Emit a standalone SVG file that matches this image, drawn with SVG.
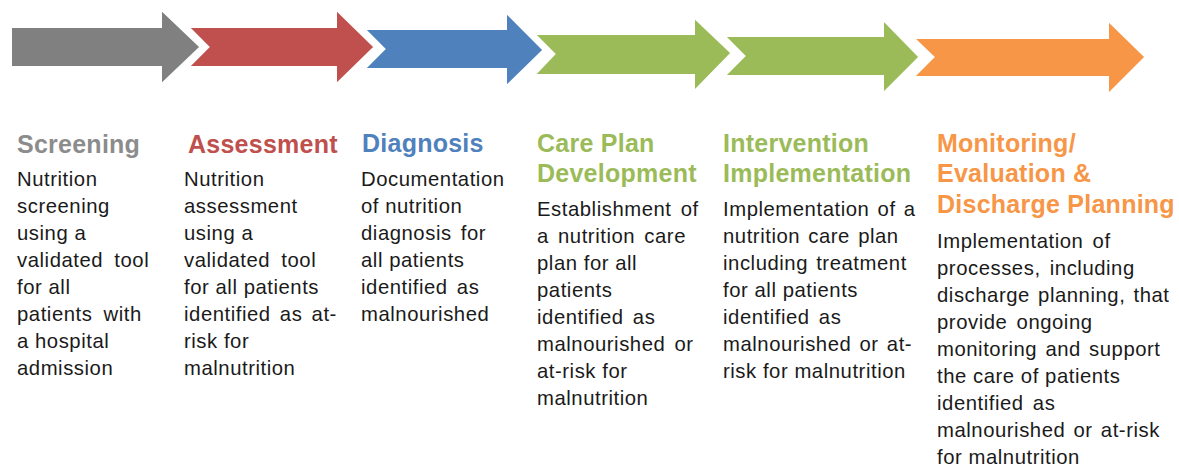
<svg xmlns="http://www.w3.org/2000/svg" width="1179" height="467" viewBox="0 0 1179 467">
<style>
.arr{stroke:#fff;stroke-width:4;stroke-linejoin:miter}
.t{font-family:"Liberation Sans",Arial,sans-serif;font-weight:bold;font-size:25px;letter-spacing:0.25px}
.b{font-family:"Liberation Sans",Arial,sans-serif;font-size:20.3px;fill:#1a1a1a;letter-spacing:0.55px}
</style>
<rect width="1179" height="467" fill="#fff"/>
<g id="screening">
<polygon class="arr" fill="#808080" points="10,26 160,26 160,7 202,47 160,87 160,68 10,68"/>
<text class="t" x="17" y="153" fill="#8c8c8c">Screening</text>
<text class="b" x="17"><tspan x="17" y="186">Nutrition</tspan><tspan x="17" y="213">screening</tspan><tspan x="17" y="240">using a</tspan><tspan x="17" y="267" word-spacing="5">validated tool</tspan><tspan x="17" y="294">for all</tspan><tspan x="17" y="321" word-spacing="5">patients with</tspan><tspan x="17" y="348">a hospital</tspan><tspan x="17" y="375">admission</tspan></text>
</g>
<g id="assessment">
<polygon class="arr" fill="#c0504d" points="186,26 335,26 335,7 376,47 335,87 335,68 186,68 207,47"/>
<text class="t" x="188" y="153" fill="#c0504d">Assessment</text>
<text class="b"><tspan x="184" y="186">Nutrition</tspan><tspan x="184" y="213">assessment</tspan><tspan x="184" y="240">using a</tspan><tspan x="184" y="267" word-spacing="5">validated tool</tspan><tspan x="184" y="294">for all patients</tspan><tspan x="184" y="321" word-spacing="3">identified as at-</tspan><tspan x="184" y="348">risk for</tspan><tspan x="184" y="375">malnutrition</tspan></text>
</g>
<g id="diagnosis">
<polygon class="arr" fill="#4f81bd" points="362,28 505,28 505,10 545,50 505,89 505,70 362,70 383,49"/>
<text class="t" x="362" y="152" fill="#4f81bd">Diagnosis</text>
<text class="b"><tspan x="361" y="186">Documentation</tspan><tspan x="361" y="213">of nutrition</tspan><tspan x="361" y="240" word-spacing="3">diagnosis for</tspan><tspan x="361" y="267">all patients</tspan><tspan x="361" y="294" word-spacing="3">identified as</tspan><tspan x="361" y="321">malnourished</tspan></text>
</g>
<g id="care-plan">
<polygon class="arr" fill="#9bbb59" points="532,33 693,33 693,15 733,53 693,94 693,76 532,76 553,54"/>
<text class="t" fill="#9bbb59"><tspan x="537" y="152">Care Plan</tspan><tspan x="537" y="182">Development</tspan></text>
<text class="b"><tspan x="537" y="216" word-spacing="3">Establishment of</tspan><tspan x="537" y="243" word-spacing="3">a nutrition care</tspan><tspan x="537" y="270">plan for all</tspan><tspan x="537" y="297">patients</tspan><tspan x="537" y="324" word-spacing="3">identified as</tspan><tspan x="537" y="351" word-spacing="3">malnourished or</tspan><tspan x="537" y="378">at-risk for</tspan><tspan x="537" y="405">malnutrition</tspan></text>
</g>
<g id="intervention">
<polygon class="arr" fill="#9bbb59" points="722,35 882,35 882,17 921,57 882,96 882,77 722,77 743,56"/>
<text class="t" fill="#9bbb59"><tspan x="723" y="152">Intervention</tspan><tspan x="723" y="182">Implementation</tspan></text>
<text class="b"><tspan x="723" y="216" word-spacing="2">Implementation of a</tspan><tspan x="723" y="243" word-spacing="2">nutrition care plan</tspan><tspan x="723" y="270" word-spacing="2">including treatment</tspan><tspan x="723" y="297">for all patients</tspan><tspan x="723" y="324" word-spacing="3">identified as</tspan><tspan x="723" y="351" word-spacing="2">malnourished or at-</tspan><tspan x="723" y="378">risk for malnutrition</tspan></text>
</g>
<g id="monitoring">
<polygon class="arr" fill="#f79646" points="911,37 1107,37 1107,18 1147,57 1107,97 1107,78 911,78 932,57"/>
<text class="t" fill="#f79646"><tspan x="937" y="152">Monitoring/</tspan><tspan x="937" y="182">Evaluation &amp;</tspan><tspan x="937" y="213">Discharge Planning</tspan></text>
<text class="b"><tspan x="937" y="248" word-spacing="3">Implementation of</tspan><tspan x="937" y="275" word-spacing="3">processes, including</tspan><tspan x="937" y="302" word-spacing="2">discharge planning, that</tspan><tspan x="937" y="329" word-spacing="3">provide ongoing</tspan><tspan x="937" y="356" word-spacing="2">monitoring and support</tspan><tspan x="937" y="383">the care of patients</tspan><tspan x="937" y="410" word-spacing="3">identified as</tspan><tspan x="937" y="437" word-spacing="2">malnourished or at-risk</tspan><tspan x="937" y="464">for malnutrition</tspan></text>
</g>
<g id="connectors"/>
</svg>
